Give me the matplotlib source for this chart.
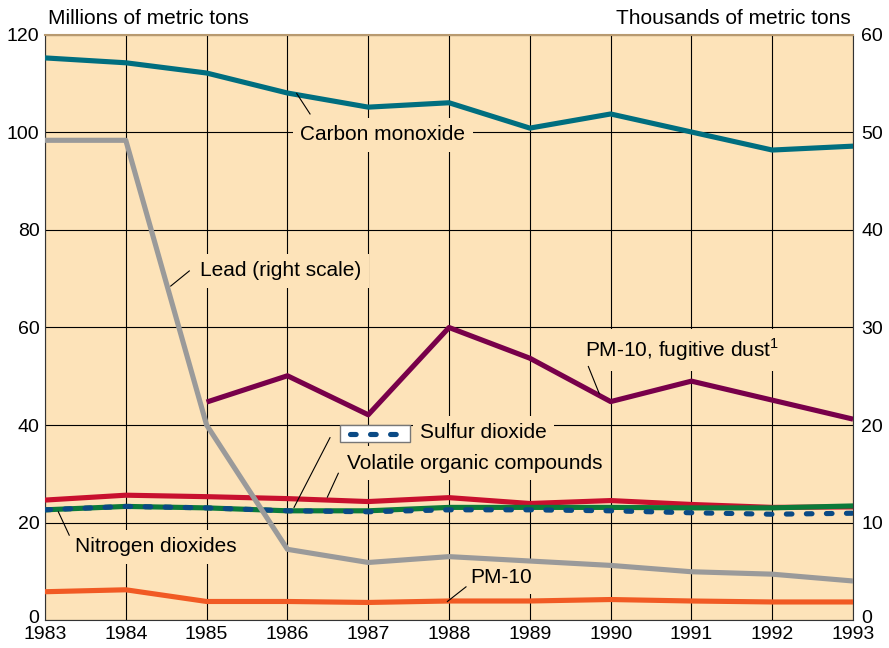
import numpy as np
import matplotlib
matplotlib.use("Agg")
import matplotlib.pyplot as plt
import matplotlib.transforms as mtransforms
from matplotlib.patches import Rectangle

plt.rcParams['font.family'] = ['Liberation Sans', 'DejaVu Sans']
plt.rcParams['mathtext.fontset'] = 'custom'
plt.rcParams['mathtext.rm'] = 'Liberation Sans'

years = np.arange(1983, 1994)

# millions of metric tons (left scale)
carbon_monoxide = [115.3, 114.3, 112.2, 108.1, 105.2, 106.1, 100.9, 103.8, 100.1, 96.4, 97.2]
voc = [24.6, 25.6, 25.3, 24.9, 24.3, 25.1, 23.9, 24.5, 23.7, 23.1, 23.2]
nitrogen_dioxides = [22.6, 23.3, 23.0, 22.4, 22.4, 23.1, 23.1, 23.1, 23.0, 23.0, 23.4]
sulfur_dioxide = [22.6, 23.3, 23.0, 22.4, 22.2, 22.6, 22.6, 22.4, 22.0, 21.7, 21.9]
pm10 = [5.8, 6.2, 3.8, 3.8, 3.6, 3.9, 3.9, 4.2, 3.9, 3.7, 3.7]
years_dust = np.arange(1985, 1994)
pm10_dust = [44.7, 50.1, 42.1, 60.0, 53.7, 44.8, 49.0, 45.1, 41.2]

# thousands of metric tons (right scale)
lead = [49.2, 49.2, 20.0, 7.25, 5.9, 6.5, 6.05, 5.6, 4.95, 4.7, 4.0]

bg = '#FDE3B9'
c_co = '#006E7F'
c_lead = '#9A9A9A'
c_dust = '#78004A'
c_voc = '#C8102E'
c_nox = '#0B7A3A'
c_so2 = '#0A4A85'
c_pm = '#F15A24'

fig = plt.figure(figsize=(8.89, 6.48), dpi=100)
ax = fig.add_axes([0.0506, 0.0432, 0.909, 0.9028])
ax.set_facecolor(bg)
ax.set_xlim(1983, 1993)
ax.set_ylim(0, 120)
ax.set_xticks(years)
ax.set_yticks(np.arange(0, 121, 20))
ax.grid(True, color='black', lw=0.8, zorder=1)
ax.set_axisbelow(True)
ax.tick_params(length=0, labelsize=14, pad=4)
for s in ['left', 'bottom', 'right']:
    ax.spines[s].set_color('#333333')
ax.spines['top'].set_color('#B89A70')
ax.spines['top'].set_linewidth(1.5)

lw = 3.7
ax.plot(years, carbon_monoxide, color=c_co, lw=lw, zorder=4, solid_capstyle='butt')
ax.plot(years_dust, pm10_dust, color=c_dust, lw=lw, zorder=4, solid_capstyle='butt')
ax.plot(years, voc, color=c_voc, lw=lw, zorder=4, solid_capstyle='butt')
ax.plot(years, nitrogen_dioxides, color=c_nox, lw=lw, zorder=5, solid_capstyle='butt')
ax.plot(years, sulfur_dioxide, color=c_so2, lw=lw, zorder=6,
        linestyle=(0, (1.1, 2.8)), dash_capstyle='round')
ax.plot(years, pm10, color=c_pm, lw=lw, zorder=4, solid_capstyle='butt')

ax2 = ax.twinx()
ax2.set_ylim(0, 60)
ax2.set_yticks(np.arange(0, 61, 10))
ax2.tick_params(length=0, labelsize=14, pad=6)
for s in ax2.spines.values():
    s.set_visible(False)
ax2.plot(years, lead, color=c_lead, lw=lw, zorder=4, solid_capstyle='butt')

# lift the two "0" labels a little off the year labels
up = mtransforms.ScaledTranslation(0, 4 / 100, fig.dpi_scale_trans)
for a in (ax, ax2):
    lab = a.get_yticklabels()[0]
    lab.set_transform(lab.get_transform() + up)

box = dict(boxstyle='square,pad=0.35', facecolor=bg, edgecolor='none')
fs = 15
ax.text(1986.16, 99.5, 'Carbon monoxide', fontsize=fs, va='center', bbox=box, zorder=3)
ax.text(1984.92, 71.6, 'Lead (right scale)', fontsize=fs, va='center', bbox=box, zorder=3)
ax.text(1989.68, 55.4, 'PM-10, fugitive dust$^\\mathrm{1}$', fontsize=fs, va='center', bbox=box, zorder=3)
ax.text(1987.64, 38.4, 'Sulfur dioxide', fontsize=fs, va='center', bbox=box, zorder=3)
ax.text(1986.74, 32.2, 'Volatile organic compounds', fontsize=fs, va='center', bbox=box, zorder=3)
ax.text(1983.37, 15.0, 'Nitrogen dioxides', fontsize=fs, va='center', bbox=box, zorder=3)
ax.text(1988.26, 8.8, 'PM-10', fontsize=fs, va='center', bbox=box, zorder=3)

# sulfur dioxide key
ax.add_patch(Rectangle((1986.65, 36.5), 0.87, 3.5, facecolor='white',
                       edgecolor='#777777', lw=1, zorder=6))
ax.plot([1986.78, 1987.40], [38.25, 38.25], color=c_so2, lw=lw, zorder=7,
        linestyle=(0, (1.1, 2.8)), dash_capstyle='round')

# leader lines
leaders = [((1986.115, 1986.28), (108.0, 103.8)),
           ((1984.786, 1984.556), (71.6, 68.5)),
           ((1989.724, 1989.86), (52.0, 46.4)),
           ((1986.527, 1986.082), (37.4, 23.1)),
           ((1986.63, 1986.494), (30.1, 25.2)),
           ((1983.30, 1983.165), (17.4, 22.2)),
           ((1988.21, 1987.98), (6.8, 3.8))]
for xs, ys in leaders:
    ax.plot(xs, ys, color='black', lw=0.8, zorder=6)

fig.text(48 / 889, 1 - 18 / 648, 'Millions of metric tons', fontsize=15, va='center', ha='left')
fig.text(851 / 889, 1 - 18 / 648, 'Thousands of metric tons', fontsize=15, va='center', ha='right')

fig.savefig('out.png', dpi=100, facecolor='white')
